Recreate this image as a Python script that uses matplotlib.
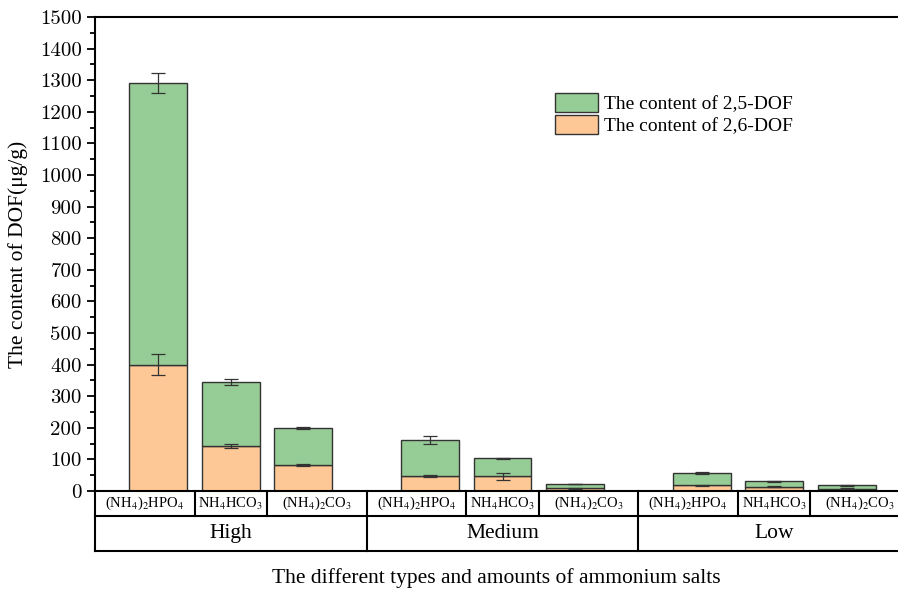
## stacked DOF content by ammonium salt type and amount

import matplotlib.pyplot as plt
import matplotlib.transforms as mtransforms
from matplotlib.ticker import MultipleLocator

plt.rcParams['font.family'] = 'Liberation Serif'
plt.rcParams['mathtext.fontset'] = 'stix'

groups = ['High', 'Medium', 'Low']
salts = [r'(NH$_4$)$_2$HPO$_4$', r'NH$_4$HCO$_3$', r'(NH$_4$)$_2$CO$_3$']

# 2,6-DOF (bottom) and 2,5-DOF (top) per group, in salt order
dof26 = [[400, 142, 82], [48, 46, 8], [18, 14, 7]]
dof25 = [[892, 203, 117], [113, 58, 14], [39, 17, 11]]
err26 = [[33, 7, 2], [3, 11, 1], [1.5, 1.5, 1]]
errtot = [[31, 10, 3], [13, 2, 1], [4, 1.5, 1]]

green = '#96CC96'
orange = '#FEC896'
gw = 3.75  # width of one group on the x axis
cells = [0, 1.375, 2.375, 3.75]  # cell borders of the salt row inside a group

fig = plt.figure(figsize=(8.98, 5.91), dpi=100)
ax = fig.add_axes([95/898, 1-491/591, 815/898, 474/591])

for g in range(3):
    for i in range(3):
        x = g*gw + 0.875 + i
        b = dof26[g][i]
        t = dof25[g][i]
        ax.bar(x, b, 0.8, color=orange, edgecolor='#333333', lw=1, zorder=2,
               label='The content of 2,6-DOF' if g == 0 and i == 0 else None)
        ax.bar(x, t, 0.8, bottom=b, color=green, edgecolor='#333333', lw=1, zorder=2,
               label='The content of 2,5-DOF' if g == 0 and i == 0 else None)
        ax.errorbar(x, b, yerr=err26[g][i], color='#333333', lw=0.9, capsize=5,
                    capthick=0.9, zorder=3)
        ax.errorbar(x, b + t, yerr=errtot[g][i], color='#333333', lw=0.9, capsize=5,
                    capthick=0.9, zorder=3)

ax.set_xlim(0, 3*gw)
ax.set_ylim(0, 1500)
ax.yaxis.set_major_locator(MultipleLocator(100))
ax.yaxis.set_minor_locator(MultipleLocator(50))
ax.tick_params(axis='y', which='major', direction='out', length=6, width=1.3,
               labelsize=15, labelfontfamily='cmr10')
ax.tick_params(axis='y', which='minor', direction='out', length=3.5, width=1.3)
ax.tick_params(axis='x', bottom=False, labelbottom=False)
for s in ['left', 'top', 'bottom']:
    ax.spines[s].set_linewidth(1.5)
ax.spines['right'].set_visible(False)

ax.set_ylabel('The content of DOF(μg/g)', fontsize=15.5)
ax.yaxis.set_label_coords(-0.082, 0.5)

# category table under the axis
trans = mtransforms.blended_transform_factory(ax.transData, ax.transAxes)
r1 = -25/474
r2 = -60/474
line_kw = dict(transform=trans, color='black', lw=1.5, clip_on=False)
ax.plot([0, 3*gw], [r1, r1], **line_kw)
ax.plot([0, 3*gw], [r2, r2], **line_kw)
for g in range(4):
    ax.plot([g*gw, g*gw], [0, r2], **line_kw)
for g in range(3):
    for k in (1, 2):
        xs = g*gw + cells[k]
        ax.plot([xs, xs], [0, r1], **line_kw)
    for i in range(3):
        xc = g*gw + (cells[i] + cells[i+1])/2
        ax.text(xc, r1/2, salts[i], transform=trans,
                ha='center', va='center', fontsize=10.5)
    ax.text(g*gw + gw/2, (r1 + r2)/2, groups[g], transform=trans,
            ha='center', va='center', fontsize=15.5)

ax.text(0.5*(898-95)/815, -87/474, 'The different types and amounts of ammonium salts',
        transform=ax.transAxes, ha='center', va='center', fontsize=15.5)

handles, labels = ax.get_legend_handles_labels()
ax.legend(handles[::-1], labels[::-1], loc='upper left',
          bbox_to_anchor=((555-95)/815, (491-93)/474),
          frameon=False, fontsize=14, handlelength=2.2, handleheight=1.15,
          labelspacing=0.08, handletextpad=0.3, borderaxespad=0, borderpad=0)

fig.savefig('out.png', dpi=100)
